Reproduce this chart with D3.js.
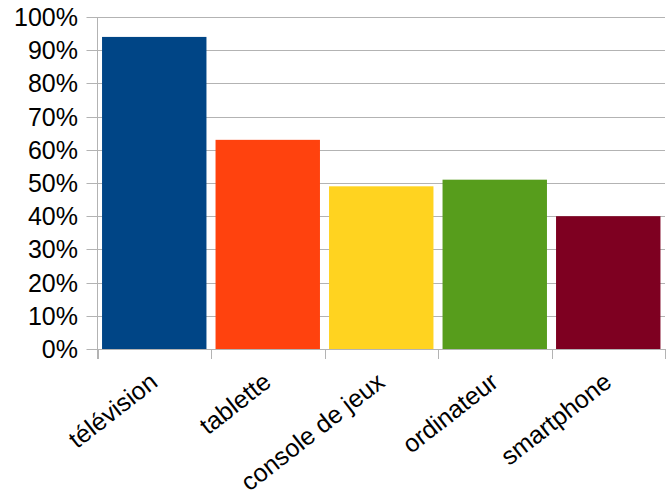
<!DOCTYPE html>
<html><head><meta charset="utf-8">
<script src="https://cdn.jsdelivr.net/npm/d3@7"></script>
<style>body{margin:0;background:#fff}svg{display:block}</style>
</head><body>
<script>
const categories = ["télévision","tablette","console de jeux","ordinateur","smartphone"];
const values = [94, 63, 49, 51, 40];
const colors = ["#004586","#ff420e","#ffd320","#579d1c","#7e0021"];
const yTicks = [0,10,20,30,40,50,60,70,80,90,100];

const W=669,H=497;
const L=97.5,R=665,T=17,B=349;
const svg=d3.select("body").append("svg").attr("width",W).attr("height",H);
const x=d3.scaleBand().domain(categories).range([L,R]).paddingInner(0.08).paddingOuter(0.04);
const y=d3.scaleLinear().domain([0,100]).range([B,T]);
const grid="#b3b3b3";

// gridlines
svg.append("g").selectAll("line").data(yTicks).join("line")
  .attr("x1",L-11).attr("x2",R).attr("y1",d=>Math.round(y(d))+0.5).attr("y2",d=>Math.round(y(d))+0.5)
  .attr("stroke",grid).attr("stroke-width",1);
// y axis line
svg.append("line").attr("x1",L).attr("x2",L).attr("y1",T).attr("y2",B+10).attr("stroke",grid);
// x ticks
const bounds=d3.range(categories.length+1).map(i=>L+i*(R-L)/categories.length);
svg.append("g").selectAll("line").data(bounds).join("line")
  .attr("x1",d=>Math.round(d)+0.5).attr("x2",d=>Math.round(d)+0.5).attr("y1",B).attr("y2",B+10).attr("stroke",grid);

// bars
svg.append("g").selectAll("rect").data(values).join("rect")
  .attr("x",(d,i)=>x(categories[i])).attr("width",x.bandwidth())
  .attr("y",d=>y(d)).attr("height",d=>B-y(d)).attr("fill",(d,i)=>colors[i]);

// y labels
svg.append("g").selectAll("text").data(yTicks).join("text")
  .attr("x",78).attr("y",d=>y(d)).attr("dy","0.36em").attr("text-anchor","end")
  .attr("font-family","Liberation Sans, Arial, sans-serif").attr("font-size",25).attr("fill","#000")
  .text(d=>d+"%");

// x labels
const step=(R-L)/categories.length;
svg.append("g").selectAll("text").data(categories).join("text")
  .attr("transform",(d,i)=>`translate(${L+step*(i+0.5)+5},${B+36}) rotate(-38)`)
  .attr("text-anchor","end")
  .attr("font-family","Liberation Sans, Arial, sans-serif").attr("font-size",25).attr("fill","#000")
  .text(d=>d);
</script>
</body></html>
